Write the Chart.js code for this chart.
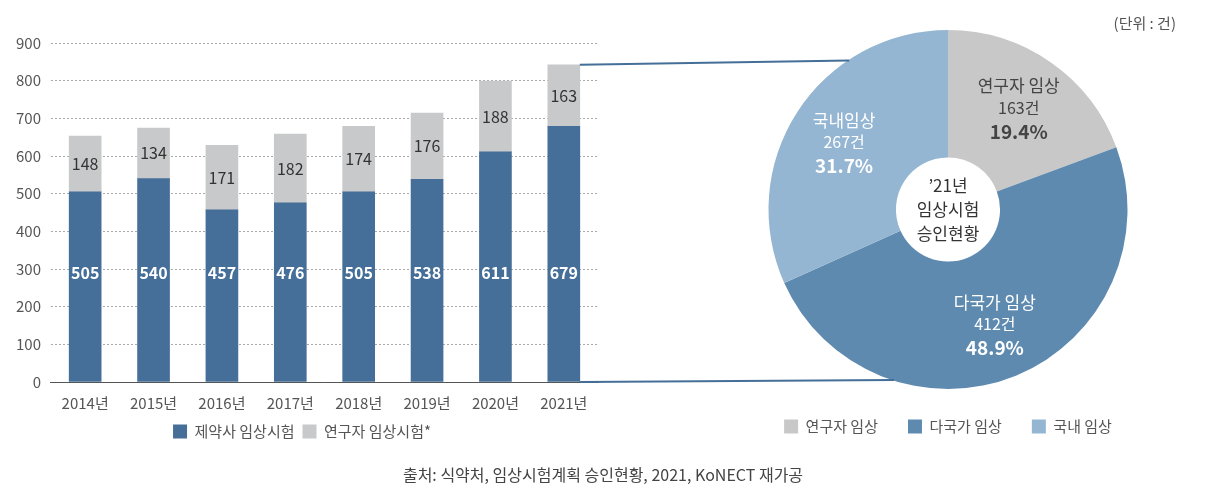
<!DOCTYPE html>
<html>
<head>
<meta charset="utf-8">
<script src="https://cdn.jsdelivr.net/npm/chart.js@4"></script>
<style>
  body { margin: 0; background: white; font-family: "Noto Sans CJK KR", sans-serif; }
  #wrap { position: relative; width: 1206px; height: 497px; }
  #bar { position: absolute; left: 0; top: 24px; }
  #pie { position: absolute; left: 738px; top: 0; }
  #links { position: absolute; left: 0; top: 0; pointer-events: none; }
  #unit { position: absolute; right: 30px; top: 12px; font-size: 15px; color: #555; }
  #src { position: absolute; left: 0; width: 1206px; top: 462px; text-align: center; font-size: 16px; color: #444; }
</style>
</head>
<body>
<div id="wrap">
  <canvas id="bar" width="610" height="425"></canvas>
  <canvas id="pie" width="420" height="450"></canvas>
  <canvas id="links" width="1206" height="497"></canvas>
  <div id="unit">(단위 : 건)</div>
  <div id="src">출처: 식약처, 임상시험계획 승인현황, 2021, KoNECT 재가공</div>
</div>
<script>
const years = ["2014년", "2015년", "2016년", "2017년", "2018년", "2019년", "2020년", "2021년"];
const pharma = [505, 540, 457, 476, 505, 538, 611, 679];
const investigator = [148, 134, 171, 182, 174, 176, 188, 163];
const pieLabels = ["연구자 임상", "다국가 임상", "국내 임상"];
const pieValues = [163, 412, 267];
const pieNames = [["연구자 임상", "163건", "19.4%"], ["다국가 임상", "412건", "48.9%"], ["국내임상", "267건", "31.7%"]];

const font = "'Noto Sans CJK KR', sans-serif";
Chart.defaults.font.family = font;
Chart.defaults.animation = false;

const barLabels = {
  id: "barLabels",
  afterDatasetsDraw(chart) {
    const ctx = chart.ctx;
    ctx.save();
    ctx.textAlign = "center";
    ctx.textBaseline = "middle";
    ctx.font = "bold 16px " + font;
    chart.getDatasetMeta(0).data.forEach((b, i) => {
      ctx.fillStyle = "#fff";
      ctx.fillText(pharma[i], b.x, chart.scales.y.getPixelForValue(290));
    });
    ctx.font = "16px " + font;
    chart.getDatasetMeta(1).data.forEach((b, i) => {
      ctx.fillStyle = "#333";
      ctx.fillText(investigator[i], b.x, (b.y + b.base) / 2);
    });
    ctx.restore();
  }
};

const barChart = new Chart(document.getElementById("bar"), {
  type: "bar",
  data: {
    labels: years,
    datasets: [
      { label: "제약사 임상시험", data: pharma, backgroundColor: "#456f98", barThickness: 32 },
      { label: "연구자 임상시험*", data: investigator, backgroundColor: "#c8c9ca", barThickness: 32 }
    ]
  },
  options: {
    responsive: false,
    layout: { padding: { right: 12, left: 6, top: 0 } },
    scales: {
      x: { stacked: true, grid: { display: false }, border: { color: "#555" },
           ticks: { color: "#555", font: { size: 15 }, padding: 4 } },
      y: { stacked: true, min: 0, max: 900, ticks: { stepSize: 100, color: "#555", font: { size: 15 }, padding: 10 },
           grid: { color: "#aaa", tickLength: 0 }, border: { display: false, dash: [2, 2] } }
    },
    plugins: {
      legend: { position: "bottom", labels: { boxWidth: 14, boxHeight: 14, color: "#555", font: { size: 15 }, padding: 8 } },
      tooltip: { enabled: false }
    }
  },
  plugins: [barLabels]
});

const pieText = {
  id: "pieText",
  afterDatasetsDraw(chart) {
    const ctx = chart.ctx;
    const arcs = chart.getDatasetMeta(0).data;
    ctx.save();
    ctx.textAlign = "center";
    ctx.textBaseline = "middle";
    arcs.forEach((a, i) => {
      const mid = (a.startAngle + a.endAngle) / 2;
      const r = (a.innerRadius + a.outerRadius) / 2 + 8;
      const x = a.x + Math.cos(mid) * r, y = a.y + Math.sin(mid) * r;
      ctx.fillStyle = i === 0 ? "#444" : "#fff";
      ctx.font = "17px " + font;
      ctx.fillText(pieNames[i][0], x, y - 22);
      ctx.font = "16px " + font;
      ctx.fillText(pieNames[i][1], x, y);
      ctx.font = "bold 19px " + font;
      ctx.fillText(pieNames[i][2], x, y + 24);
    });
    const c = arcs[0];
    ctx.fillStyle = "#333";
    ctx.font = "17px " + font;
    ctx.fillText("’21년", c.x, c.y - 24);
    ctx.fillText("임상시험", c.x, c.y);
    ctx.fillText("승인현황", c.x, c.y + 24);
    ctx.restore();
  }
};

const pieChart = new Chart(document.getElementById("pie"), {
  type: "doughnut",
  data: {
    labels: pieLabels,
    datasets: [{ data: pieValues, backgroundColor: ["#c8c8c8", "#5f8ab0", "#94b6d2"], borderWidth: 0 }]
  },
  options: {
    responsive: false,
    cutout: "29%",
    layout: { padding: { top: 30, bottom: 6 } },
    plugins: {
      legend: { position: "bottom", labels: { boxWidth: 14, boxHeight: 14, color: "#555", font: { size: 15 }, padding: 30 } },
      tooltip: { enabled: false }
    }
  },
  plugins: [pieText]
});

// connector lines from the 2021 bar to the doughnut
const last = years.length - 1;
const topBar = barChart.getDatasetMeta(1).data[last];
const arc = pieChart.getDatasetMeta(0).data[0];
const bx = topBar.x + topBar.width / 2;
const barTop = topBar.y + 24, barBase = barChart.scales.y.getPixelForValue(0) + 24;
const cx = arc.x + 738, cy = arc.y, R = arc.outerRadius;
const lctx = document.getElementById("links").getContext("2d");
lctx.strokeStyle = "#456f98";
lctx.lineWidth = 2;
lctx.beginPath();
lctx.moveTo(bx, barTop); lctx.lineTo(cx - R * 0.55, cy - R * 0.83);
lctx.moveTo(bx, barBase); lctx.lineTo(cx - R * 0.3, cy + R * 0.95);
lctx.stroke();
</script>
</body>
</html>
